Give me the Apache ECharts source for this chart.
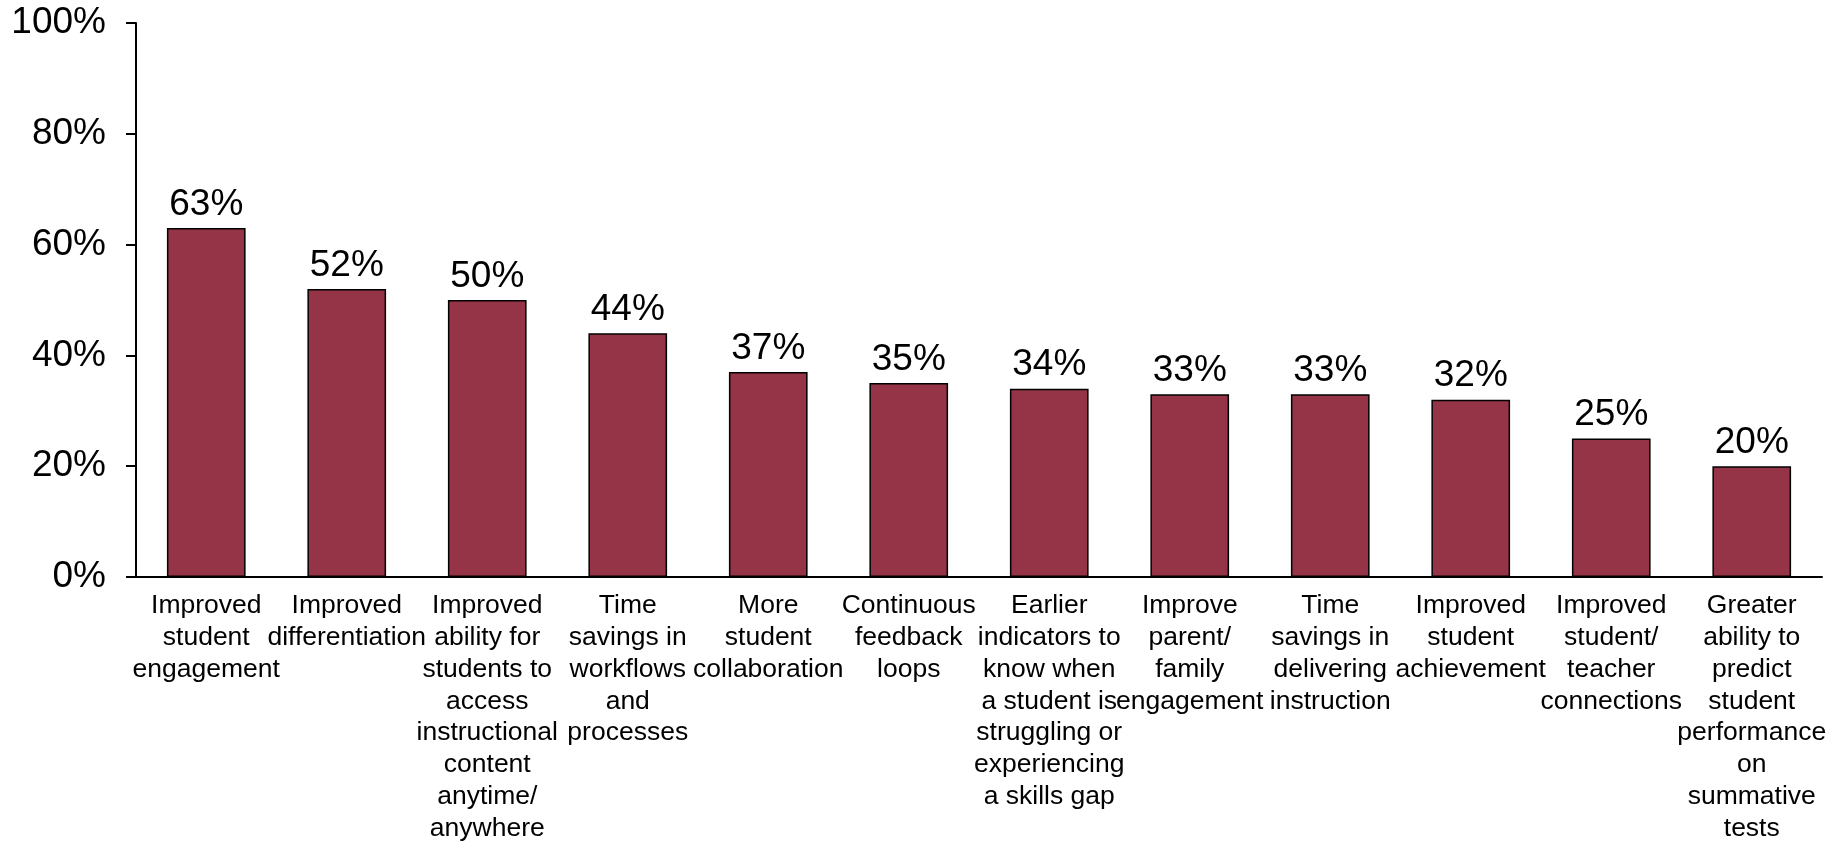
<!DOCTYPE html>
<html>
<head>
<meta charset="utf-8">
<script src="https://cdn.jsdelivr.net/npm/echarts@6/dist/echarts.min.js"></script>
<style>
  html, body { margin: 0; padding: 0; background: #fff; }
  #chart { width: 1839px; height: 841px; }
</style>
</head>
<body>
<div id="chart"></div>
<script>
// Reported benefits, share of respondents (%)
const categories = [
  "Improved\nstudent\nengagement",
  "Improved\ndifferentiation",
  "Improved\nability for\nstudents to\naccess\ninstructional\ncontent\nanytime/\nanywhere",
  "Time\nsavings in\nworkflows\nand\nprocesses",
  "More\nstudent\ncollaboration",
  "Continuous\nfeedback\nloops",
  "Earlier\nindicators to\nknow when\na student is\nstruggling or\nexperiencing\na skills gap",
  "Improve\nparent/\nfamily\nengagement",
  "Time\nsavings in\ndelivering\ninstruction",
  "Improved\nstudent\nachievement",
  "Improved\nstudent/\nteacher\nconnections",
  "Greater\nability to\npredict\nstudent\nperformance\non\nsummative\ntests"
];
const values = [63, 52, 50, 44, 37, 35, 34, 33, 33, 32, 25, 20];
const yTicks = { min: 0, max: 100, step: 20 };

const FONT = '"Liberation Sans", Arial, sans-serif';

const chart = echarts.init(document.getElementById('chart'), null, { renderer: 'canvas' });
chart.setOption({
  animation: false,
  backgroundColor: '#ffffff',
  grid: {
    left: 136, right: 17, top: 23, bottom: 264,
    containLabel: false,
    outerBoundsMode: 'none'
  },
  xAxis: {
    type: 'category',
    data: categories,
    axisLine: { show: true, lineStyle: { color: '#000', width: 2 } },
    axisTick: { show: false },
    axisLabel: {
      interval: 0,
      margin: 13,
      color: '#000',
      fontFamily: FONT,
      fontSize: 26.5,
      lineHeight: 31.8,
      align: 'center'
    },
    splitLine: { show: false }
  },
  yAxis: {
    type: 'value',
    min: yTicks.min,
    max: yTicks.max,
    interval: yTicks.step,
    axisLine: { show: true, lineStyle: { color: '#000', width: 2 } },
    axisTick: { show: true, length: 10, lineStyle: { color: '#000', width: 2 } },
    axisLabel: {
      formatter: '{value}%',
      color: '#000',
      fontFamily: FONT,
      fontSize: 37,
      margin: 30
    },
    splitLine: { show: false }
  },
  series: [{
    type: 'bar',
    data: values,
    barCategoryGap: '44%',
    itemStyle: { color: '#943446', borderColor: '#000', borderWidth: 1.5 },
    label: {
      show: true,
      position: 'top',
      distance: 5,
      formatter: '{c}%',
      color: '#000',
      fontFamily: FONT,
      fontSize: 37
    }
  }]
});
</script>
</body>
</html>
